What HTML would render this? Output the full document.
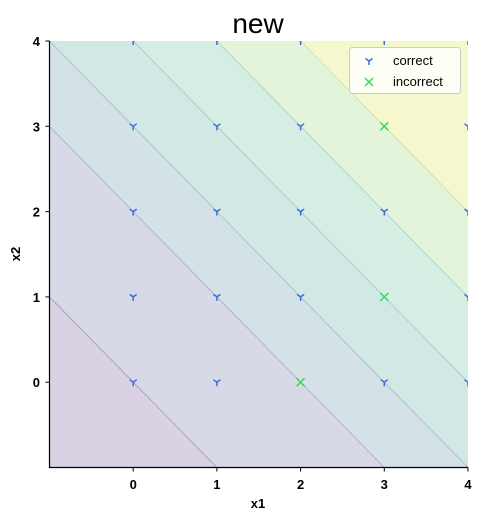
<!DOCTYPE html>
<html><head><meta charset="utf-8"><style>
html,body{margin:0;padding:0;background:#fff;overflow:hidden;width:482px;height:521px;}
svg{display:block;}
svg text{font-family:"Liberation Sans","DejaVu Sans",sans-serif;}
</style></head><body>
<svg id="c" width="482" height="521" xmlns="http://www.w3.org/2000/svg">
<defs><clipPath id="clip"><rect x="49.5" y="41" width="418.5" height="426.5"/></clipPath></defs>
<text x="258" y="33" text-anchor="middle" font-size="28" fill="#000">new</text>
<g id="bands" clip-path="url(#clip)"></g>
<g id="pts" clip-path="url(#clip)"></g>
<g id="axes"></g>
<text x="258" y="508" text-anchor="middle" font-size="13" font-weight="bold">x1</text>
<text x="20" y="254" text-anchor="middle" font-size="13" font-weight="bold" transform="rotate(-90 20 254)">x2</text>
<g>
<rect x="349.5" y="47.5" width="111" height="46" rx="3" fill="#fff" fill-opacity="0.8" stroke="#ccc"/>
<g><g transform="translate(369,61)" stroke="#3b6be0" stroke-width="1.5"><line x1="0" y1="0" x2="0" y2="4"/><line x1="0" y1="0" x2="-3.5" y2="-2.5"/><line x1="0" y1="0" x2="3.5" y2="-2.5"/></g><text x="393" y="65" font-size="13">correct</text></g>
<g><g transform="translate(369,82)" stroke="#33dd55" stroke-width="1.5"><line x1="-4" y1="-4" x2="4" y2="4"/><line x1="-4" y1="4" x2="4" y2="-4"/></g><text x="393" y="86" font-size="13">incorrect</text></g>
</g>
</svg>
<script>
const levels=[0,2,3,4,5,6];
const bandColors=["#dad1e2","#d8d9e7","#d4e1e7","#d2e8e4","#d5ede2","#e3f4da","#f5f8cc"];
const lineColors=["#aaa3c8","#aeb5cc","#a9c4cc","#a8d0cc","#b0d8c4","#cce4b0"];
const xTicks=[0,1,2,3,4];
const yTicks=[0,1,2,3,4];
const incorrectX=[2,3,3];
const incorrectY=[0,1,3];
const gridX=[0,1,2,3,4];
const gridY=[0,1,2,3,4];
const X=v=>49.5+(v+1)*83.7;
const Y=v=>467.5-(v+1)*85.3;
const NS="http://www.w3.org/2000/svg";
function mk(t,a,p){const e=document.createElementNS(NS,t);for(const k in a)e.setAttribute(k,a[k]);p.appendChild(e);return e;}
const bands=document.getElementById('bands');
const bg=mk('rect',{x:49.5,y:41,width:418.5,height:426.5,fill:bandColors[0]},bands);


levels.forEach((L,i)=>{
  const p=mk('polygon',{points:`${X(L-20)},${Y(20)} ${X(L+20)},${Y(-20)} ${X(30)},${Y(30)}`,fill:bandColors[i+1]},bands);
  
  
  const l=mk('line',{x1:X(L-20),y1:Y(20),x2:X(L+20),y2:Y(-20),stroke:lineColors[i],'stroke-width':1},bands);
  
  
});
const pts=document.getElementById('pts');
gridX.forEach(gx=>gridY.forEach(gy=>{
  let bad=false;
  for(let k=0;k<incorrectX.length;k++) if(incorrectX[k]===gx&&incorrectY[k]===gy) bad=true;
  const g=mk('g',{transform:`translate(${X(gx)},${Y(gy)})`},pts);
  if(bad){
    
    
    g.setAttribute('stroke','#33dd55');g.setAttribute('stroke-width','1.5');
    mk('line',{x1:-4,y1:-4,x2:4,y2:4},g);mk('line',{x1:-4,y1:4,x2:4,y2:-4},g);
  } else {
    
    
    g.setAttribute('stroke','#3b6be0');g.setAttribute('stroke-width','1.5');
    mk('line',{x1:0,y1:0,x2:0,y2:4},g);mk('line',{x1:0,y1:0,x2:-3.5,y2:-2.5},g);mk('line',{x1:0,y1:0,x2:3.5,y2:-2.5},g);
  }
}));
const ax=document.getElementById('axes');
const ls=mk('line',{x1:49.5,y1:41,x2:49.5,y2:468,stroke:'#000','stroke-width':1.2},ax);


const bs=mk('line',{x1:49,y1:467.5,x2:468,y2:467.5,stroke:'#000','stroke-width':1.2},ax);


xTicks.forEach(t=>{
  mk('line',{x1:X(t),y1:467.5,x2:X(t),y2:471.5,stroke:'#000'},ax);
  const tx=mk('text',{x:X(t),y:489,'text-anchor':'middle','font-size':13,'font-weight':'bold'},ax);
  tx.textContent=t;
  
  
});
yTicks.forEach(t=>{
  mk('line',{x1:45.5,y1:Y(t),x2:49.5,y2:Y(t),stroke:'#000'},ax);
  const tx=mk('text',{x:40,y:Y(t)+5,'text-anchor':'end','font-size':13,'font-weight':'bold'},ax);
  tx.textContent=t;
  
  
});
</script>
</body></html>
